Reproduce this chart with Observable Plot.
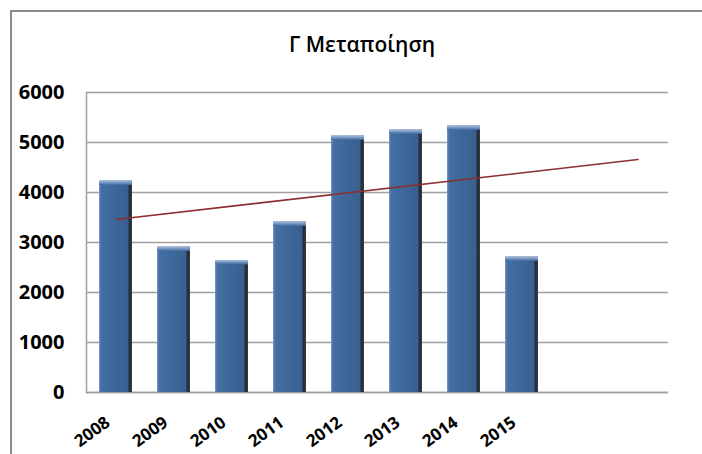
<!DOCTYPE html>
<html>
<head>
<meta charset="utf-8">
<script src="https://cdn.jsdelivr.net/npm/d3@7"></script>
<script src="https://cdn.jsdelivr.net/npm/@observablehq/plot@0.6"></script>
<style>
  html, body { margin: 0; padding: 0; background: #fff; }
  #wrap { position: relative; width: 702px; height: 454px; overflow: hidden; background: #fff; }
  #border { position: absolute; left: 10px; top: 10px; width: 760px; height: 520px; border: 2px solid #8c8c8c; box-sizing: border-box; }
  #title { position: absolute; left: 0; width: 724px; top: 30px; text-align: center; font-family: "Open Sans", sans-serif; font-size: 21px; font-weight: 600; color: #000; }
  #chart { position: absolute; left: 0; top: 0; }
</style>
</head>
<body>
<div id="wrap">
  <div id="border"></div>
  <div id="chart"></div>
  <div id="title">Γ Μεταποίηση</div>
</div>
<script>
const years = ["2008", "2009", "2010", "2011", "2012", "2013", "2014", "2015"];
const values = [4230, 2910, 2640, 3410, 5130, 5250, 5330, 2710];
const emptySlots = ["2016", "2017"];
const trendX = ["2008", "2017"];
const trendY = [3460, 4660];
const yTicks = [0, 1000, 2000, 3000, 4000, 5000, 6000];

const bars = years.map((y, i) => ({year: y, value: values[i]}));
const trend = trendX.map((x, i) => ({x, y: trendY[i]}));

const svg = Plot.plot({
  width: 702,
  height: 454,
  marginLeft: 86,
  marginRight: 34,
  marginTop: 92,
  marginBottom: 62,
  style: {fontFamily: "Open Sans, sans-serif", fontSize: "20px", fontWeight: "bold", color: "#000", background: "transparent"},
  x: {type: "band", domain: years.concat(emptySlots), paddingInner: 0.43, paddingOuter: 0.215, label: null},
  y: {domain: [0, 6000], label: null},
  marks: [
    Plot.gridY(yTicks, {stroke: "#a0a0a0", strokeOpacity: 1, strokeWidth: 1.5}),
    Plot.frame({anchor: "left", stroke: "#a0a0a0", strokeWidth: 1.5}),
    Plot.ruleY([0], {stroke: "#a0a0a0", strokeWidth: 1.5}),
    Plot.barY(bars, {x: "year", y: "value", fill: "url(#barGrad)"}),
    Plot.barY(bars, {x: "year", y1: d => d.value - 90, y2: "value", fill: "url(#topGrad)"}),
    Plot.line(trend, {x: "x", y: "y", stroke: "#8b2f2f", strokeWidth: 1.6}),
    Plot.axisY(yTicks, {tickSize: 0, tickPadding: 22, fontSize: 20, fontWeight: "bold", tickFormat: d3.format("d")}),
    Plot.axisX({tickSize: 0, tickPadding: 20, tickRotate: -36, fontSize: 17, fontWeight: "bold", dx: -8, dy: 8,
      tickFormat: d => years.includes(d) ? d : ""})
  ]
});

const defs = d3.select(svg).insert("defs", ":first-child");
const g = defs.append("linearGradient").attr("id", "barGrad").attr("x1", 0).attr("x2", 1).attr("y1", 0).attr("y2", 0);
[["0", "#7d9bc6"], ["0.06", "#446fa3"], ["0.5", "#3d6799"], ["0.88", "#395f8f"], ["0.91", "#1e2c40"], ["1", "#3a3a3a"]]
  .forEach(([o, c]) => g.append("stop").attr("offset", o).attr("stop-color", c));
const t = defs.append("linearGradient").attr("id", "topGrad").attr("x1", 0).attr("x2", 0).attr("y1", 0).attr("y2", 1);
[["0", "#a9bedc"], ["0.5", "#7394c2"], ["1", "#3d6799"]]
  .forEach(([o, c]) => t.append("stop").attr("offset", o).attr("stop-color", c));

document.getElementById("chart").appendChild(svg);
</script>
</body>
</html>
